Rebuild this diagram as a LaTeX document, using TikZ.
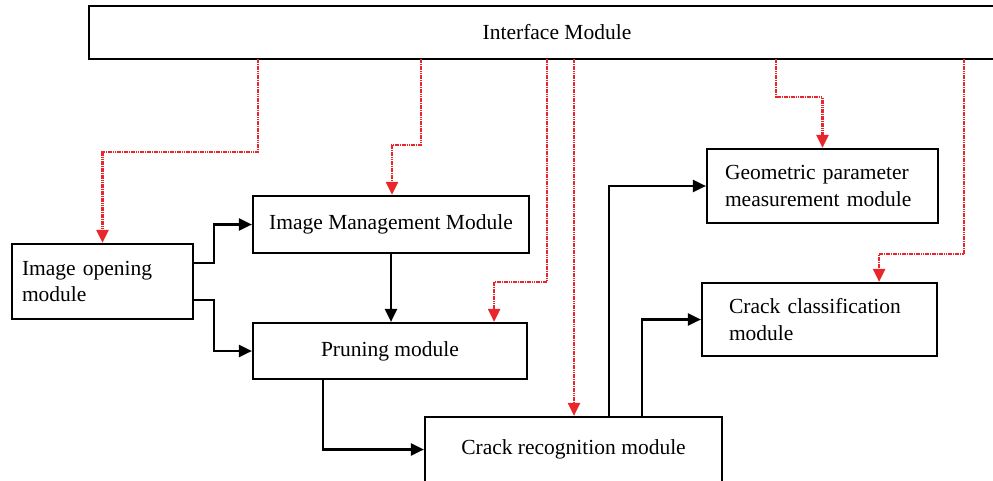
\documentclass[tikz,border=0pt]{standalone}
\usepackage{fontspec}
\setmainfont{Liberation Serif}
\usetikzlibrary{arrows.meta,calc}
\definecolor{linkred}{HTML}{E8262B}
\tikzset{
  modbox/.style={draw=black, line width=2.2pt, rectangle, inner sep=0pt,
    font=\fontsize{21.5}{26.5}\selectfont},
  leftbox/.style={modbox, align=left},
  blk/.style={draw=black, line width=2.2pt,
    -{Triangle[width=12pt,length=13pt]}},
  redlink/.style={draw=linkred, line width=2.4pt, dash pattern=on 1.6pt off 0.7pt,
    -{Triangle[width=12pt,length=13pt,fill=linkred]}}
}
\begin{document}
\begin{tikzpicture}[x=1pt,y=-1pt]
\useasboundingbox (0,0) rectangle (993,480);
\fill[white] (0,0) rectangle (993,480);

% modules
\node[modbox, minimum width=936pt, minimum height=53pt] (iface) at (557,32.5) {Interface Module};
\node[leftbox, minimum width=181pt, minimum height=75pt, text width=161pt] (open) at (102.5,281.5)
  {Image opening\\module};
\node[modbox, minimum width=276pt, minimum height=57pt] (mgmt) at (391,224.5) {Image Management Module};
\node[modbox, minimum width=274pt, minimum height=56pt] (prune) at (390,351) {Pruning module};
\node[modbox, minimum width=297pt, minimum height=65pt] (crack) at (573.5,449.5) {Crack recognition module};
\node[leftbox, minimum width=231pt, minimum height=74pt, text width=195pt] (geo) at (822.5,186)
  {Geometric parameter\\measurement module};
\node[leftbox, minimum width=235pt, minimum height=73pt, text width=181pt] (class) at (819.5,319.5)
  {Crack classification\\module};

% taps on the interface bar
\coordinate (t1) at (258,59);
\coordinate (t2) at (421,59);
\coordinate (t3) at (547,59);
\coordinate (t4) at (574,59);
\coordinate (t5) at (776,59);
\coordinate (t6) at (964,59);

% control links from the interface
\draw[redlink] (t1) -- ++(0,93) -| (open.north);
\draw[redlink] (t2) -- ++(0,86) -| ([xshift=1pt]mgmt.north);
\draw[redlink] (t3) -- ++(0,223) -| ([xshift=-34pt]prune.north east);
\draw[redlink] (t4) -- (t4 |- crack.north);
\draw[redlink] (t5) -- ++(0,38) -| (geo.north);
\draw[redlink] (t6) -- ++(0,195) -| ([xshift=-59pt]class.north east);

% data flow
\draw[blk] ([yshift=18.5pt]open.east) -- ++(20,0) |- (mgmt.west);
\draw[blk] ([yshift=-18.5pt]open.east) -- ++(20,0) |- (prune.west);
\draw[blk] (mgmt.south) -- (mgmt.south |- prune.north);
\draw[blk] ([xshift=71pt]prune.south west) |- (crack.west);
\draw[blk] ([xshift=185pt]crack.north west) |- (geo.west);
\draw[blk] ([xshift=218pt]crack.north west) |- (class.west);
\end{tikzpicture}
\end{document}
